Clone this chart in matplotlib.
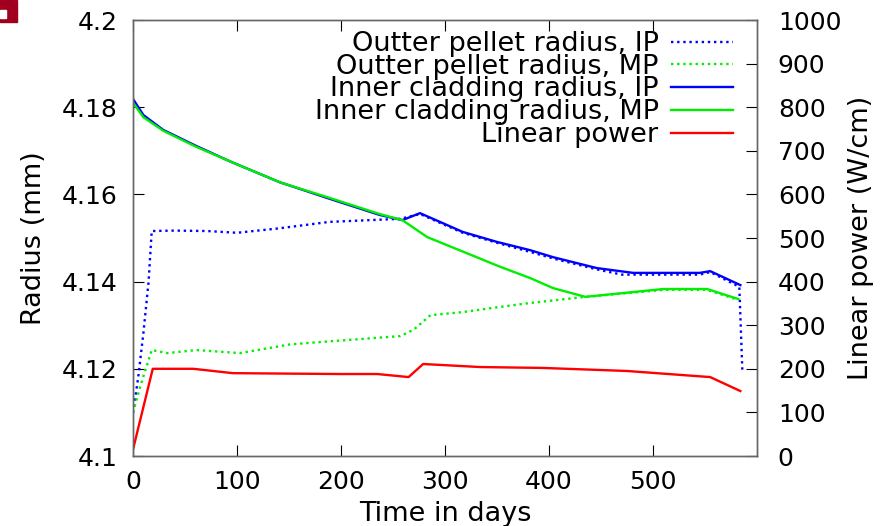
import matplotlib
matplotlib.use("Agg")
import matplotlib.pyplot as plt
from matplotlib.patches import Rectangle

# outer pellet radius, inner point (mm)
pel_ip_t = [0, 5, 10, 15, 18, 40, 71, 100, 140, 189, 257, 276, 317, 350, 382, 404, 446, 470, 545, 555, 583, 586]
pel_ip_r = [4.1099, 4.1180, 4.1282, 4.1400, 4.1516, 4.1517, 4.1516, 4.1512, 4.1522, 4.1537, 4.1544, 4.1555,
            4.1512, 4.1489, 4.1468, 4.1453, 4.1428, 4.1416, 4.1416, 4.1422, 4.1388, 4.1190]

# outer pellet radius, middle point
pel_mp_t = [0, 7, 18, 33, 61, 103, 151, 189, 257, 270, 286, 317, 353, 382, 435, 510, 552, 582]
pel_mp_r = [4.1100, 4.1160, 4.1243, 4.1236, 4.1243, 4.1236, 4.1256, 4.1263, 4.1275, 4.1290, 4.1323, 4.1330,
            4.1342, 4.1351, 4.1365, 4.1381, 4.1381, 4.1358]

# inner cladding radius, inner point
clad_ip_t = [0, 10, 29, 60, 93, 141, 189, 237, 259, 276, 317, 350, 382, 404, 446, 481, 545, 555, 584]
clad_ip_r = [4.1819, 4.1782, 4.1748, 4.1712, 4.1676, 4.1628, 4.1590, 4.1553, 4.1541, 4.1557, 4.1514, 4.1491,
             4.1472, 4.1456, 4.1431, 4.1420, 4.1420, 4.1424, 4.1392]

# inner cladding radius, middle point
clad_mp_t = [0, 10, 29, 60, 93, 141, 189, 237, 259, 283, 353, 382, 404, 435, 510, 552, 582]
clad_mp_r = [4.1810, 4.1777, 4.1746, 4.1710, 4.1676, 4.1628, 4.1592, 4.1555, 4.1541, 4.1502, 4.1434, 4.1408,
             4.1385, 4.1365, 4.1383, 4.1383, 4.1360]

# linear power (W/cm)
pow_t = [0, 19, 58, 96, 199, 235, 265, 279, 334, 394, 475, 555, 584]
pow_w = [15, 200, 200, 190, 188, 188, 181, 211, 204, 202, 195, 181, 149]

FS = 18      # tick labels
LFS = 19.5   # axis labels and legend
blue = '#0000ff'
green = '#00ee00'
red = '#ff0000'
dots = (0, (1, 1.6))

fig = plt.figure(figsize=(8.85, 5.26), dpi=100)
ax = fig.add_axes([133 / 885, 1 - 456 / 526, 624 / 885, 436 / 526])
ax2 = ax.twinx()

l1, = ax.plot(pel_ip_t, pel_ip_r, color=blue, lw=1.7, ls=dots, label='Outter pellet radius, IP')
l2, = ax.plot(pel_mp_t, pel_mp_r, color=green, lw=1.7, ls=dots, label='Outter pellet radius, MP')
l3, = ax.plot(clad_ip_t, clad_ip_r, color=blue, lw=1.7, label='Inner cladding radius, IP')
l4, = ax.plot(clad_mp_t, clad_mp_r, color=green, lw=1.7, label='Inner cladding radius, MP')
l5, = ax2.plot(pow_t, pow_w, color=red, lw=1.7, label='Linear power')

ax.set_xlim(0, 600)
ax.set_ylim(4.1, 4.2)
ax2.set_ylim(0, 1000)
ax.set_xticks([0, 100, 200, 300, 400, 500])
ax.set_yticks([4.1, 4.12, 4.14, 4.16, 4.18, 4.2])
ax.set_yticklabels(['4.1', '4.12', '4.14', '4.16', '4.18', '4.2'])
ax2.set_yticks(range(0, 1001, 100))

ax.tick_params(axis='x', direction='in', length=8, width=0.8, top=True, labelsize=FS, pad=10)
ax.tick_params(axis='y', direction='in', length=8, width=0.8, labelsize=FS, pad=11)
ax2.tick_params(axis='y', direction='in', length=8, width=0.8, labelsize=FS, pad=15)

for a in (ax, ax2):
    for s in a.spines.values():
        s.set_color('#666666')
        s.set_linewidth(1.0)

ax.set_xlabel('Time in days', fontsize=LFS, labelpad=5)
ax.set_ylabel('Radius (mm)', fontsize=LFS, labelpad=11)
ax2.set_ylabel('Linear power (W/cm)', fontsize=LFS, labelpad=5)

fig.legend(handles=[l1, l2, l3, l4, l5], loc='upper right', bbox_to_anchor=(733 / 885, 1 - 31 / 526),
           frameon=False, markerfirst=False, fontsize=LFS, labelspacing=-0.12, handlelength=2.3,
           handletextpad=0.45, borderpad=0, borderaxespad=0)

# corner mark from the source page
fig.patches.append(Rectangle((0, 1 - 22 / 526), 17 / 885, 22 / 526, transform=fig.transFigure,
                             color='#a0001e', zorder=0))
fig.patches.append(Rectangle((0, 1 - 18 / 526), 6 / 885, 8 / 526, transform=fig.transFigure,
                             color='white', zorder=1))

fig.savefig('out.png', dpi=100)
